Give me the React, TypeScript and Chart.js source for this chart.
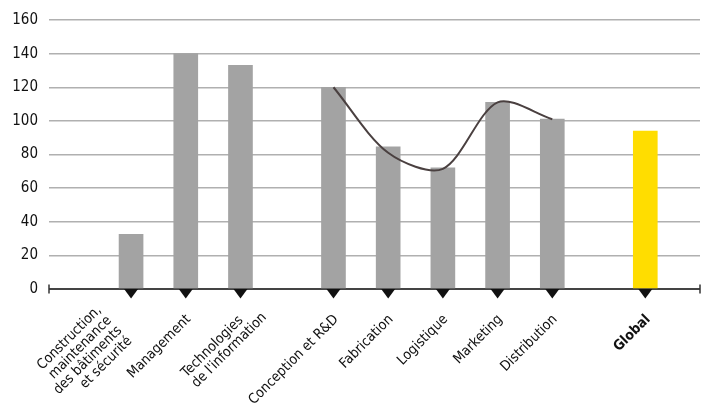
import React, { useEffect, useRef } from "react";
import { Chart, registerables } from "chart.js";
Chart.register(...registerables);

const categories: string[][] = [
  ["Construction,", "maintenance", "des bâtiments", "et sécurité"],
  ["Management"],
  ["Technologies", "de l'information"],
  ["Conception et R&D"],
  ["Fabrication"],
  ["Logistique"],
  ["Marketing"],
  ["Distribution"],
  ["Global"],
];
const groups = [0, 0, 0, 1, 1, 1, 1, 1, 2];
const values = [32.5, 140, 133, 120, 84.5, 72, 111, 101, 94];
const trendIndices = [3, 4, 5, 6, 7];
const trendValues = [120, 81, 71.5, 111, 101];
const yMax = 160;
const yStep = 20;

const FONT = "'DejaVu Sans Condensed', 'Liberation Sans Narrow', sans-serif";
const slot = (i: number) => i + 1.5 + groups[i] * 0.7;

// label layout (style only): alignment, along-text edge offset, first-line perpendicular offset
const labelStyle = (i: number) => {
  if (i === 0) return { align: "right", edge: -36, p0: -9 };
  if (i === 2) return { align: "left", edge: -101, p0: 21 };
  return { align: "right", edge: -18, p0: 22 };
};
const LINE_H = 14.5;

const markerPlugin = {
  id: "markers",
  afterDatasetsDraw(chart: any) {
    const { ctx } = chart;
    const xs = chart.scales.x;
    const ys = chart.scales.y;
    const y0 = ys.getPixelForValue(0);
    ctx.save();
    ctx.fillStyle = "#111";
    categories.forEach((_, i) => {
      const px = xs.getPixelForValue(slot(i));
      ctx.beginPath();
      ctx.moveTo(px - 7, y0);
      ctx.lineTo(px + 7, y0);
      ctx.lineTo(px, y0 + 9.5);
      ctx.closePath();
      ctx.fill();
    });
    ctx.strokeStyle = "#333";
    ctx.lineWidth = 1.5;
    [chart.chartArea.left, chart.chartArea.right].forEach((px: number) => {
      ctx.beginPath();
      ctx.moveTo(px, y0 - 4.5);
      ctx.lineTo(px, y0 + 4.5);
      ctx.stroke();
    });
    // category labels, rotated 45°
    ctx.fillStyle = "#111";
    ctx.textBaseline = "middle";
    categories.forEach((lines, i) => {
      const px = xs.getPixelForValue(slot(i));
      const st = labelStyle(i);
      const bold = i === categories.length - 1;
      ctx.font = `${bold ? "bold " : ""}14px ${FONT}`;
      ctx.save();
      ctx.translate(px, y0);
      ctx.rotate(-Math.PI / 4);
      ctx.textAlign = st.align as CanvasTextAlign;
      lines.forEach((line, j) => {
        ctx.fillText(line, st.edge, st.p0 + j * LINE_H);
      });
      ctx.restore();
    });
    ctx.restore();
  },
};

export default function App() {
  const ref = useRef<HTMLCanvasElement>(null);
  useEffect(() => {
    document.body.style.margin = "0";
    const barColors = categories.map((_, i) => (i === categories.length - 1 ? "#ffdd00" : "#a3a3a3"));
    const chart = new Chart(ref.current!, {
      type: "bar",
      data: {
        datasets: [
          {
            type: "line",
            data: trendIndices.map((ci, k) => ({ x: slot(ci), y: trendValues[k] })),
            borderColor: "#4a4040",
            borderWidth: 2,
            pointRadius: 0,
            tension: 0.3,
            order: 0,
          } as any,
          {
            type: "bar",
            data: values.map((v, i) => ({ x: slot(i), y: v })),
            backgroundColor: barColors,
            barThickness: 24,
            order: 1,
          },
        ],
      },
      plugins: [markerPlugin],
      options: {
        animation: false,
        responsive: false,
        layout: { padding: { top: 18, right: 18, left: 0, bottom: 0 } },
        plugins: { legend: { display: false }, tooltip: { enabled: false } },
        scales: {
          x: {
            type: "linear",
            min: 0,
            max: 11.9,
            offset: false,
            grid: { display: false },
            border: { display: false },
            afterFit: (s: any) => {
              s.height = 123;
            },
            ticks: { display: false },
          },
          y: {
            min: 0,
            max: yMax,
            grid: {
              drawTicks: false,
              color: (c: any) => (c.tick && c.tick.value === 0 ? "#444" : "#b0b0b0"),
              lineWidth: (c: any) => (c.tick && c.tick.value === 0 ? 2 : 1.5),
            },
            border: { display: false },
            afterFit: (s: any) => {
              s.width = 49;
            },
            ticks: {
              stepSize: yStep,
              padding: 11,
              color: "#111",
              font: { family: FONT, size: 15 },
            },
          },
        },
      },
    });
    return () => chart.destroy();
  }, []);
  return <canvas ref={ref} width={718} height={412} style={{ display: "block" }} />;
}
